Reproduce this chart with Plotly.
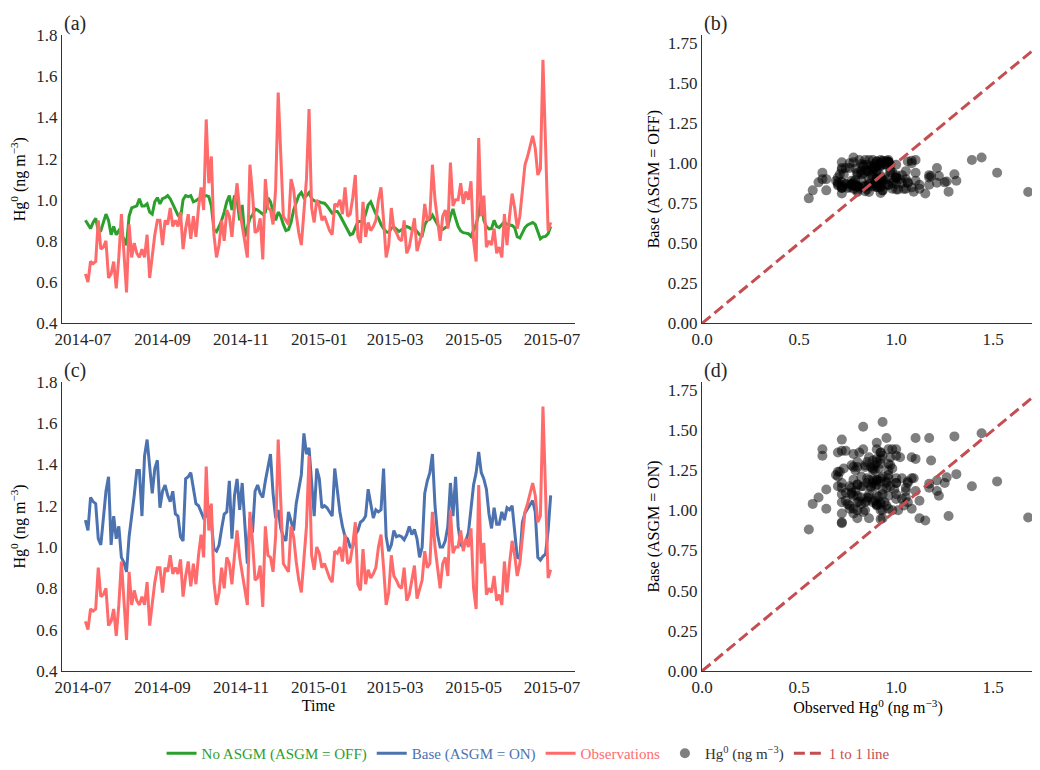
import pandas as pd
import plotly.graph_objects as go

# ---------------- data (2-day steps) ----------------
START_DATE = "2014-07-03"
STEP = "2D"

observations = [
    0.64, 0.60, 0.70, 0.69, 0.70, 0.90, 0.76, 0.77, 0.80, 0.62,
    0.64, 0.70, 0.57, 0.72, 0.93, 0.72, 0.55, 0.88, 0.72, 0.79,
    0.74, 0.72, 0.76, 0.72, 0.83, 0.62, 0.73, 0.83, 0.90, 0.90,
    0.78, 0.90, 0.88, 0.96, 0.87, 0.90, 0.87, 0.94, 0.76, 0.86,
    0.93, 0.81, 0.92, 0.82, 0.96, 1.06, 0.95, 1.39, 1.08, 1.21,
    0.83, 0.72, 0.78, 0.90, 0.80, 0.95, 0.92, 0.82, 0.96, 1.08,
    0.95, 0.88, 0.80, 0.72, 1.17, 1.03, 0.84, 0.85, 0.91, 0.71,
    1.10, 0.96, 0.95, 0.88, 1.05, 1.52, 1.22, 0.92, 0.90, 0.88,
    1.10, 1.05, 0.93, 0.84, 0.78, 0.93, 1.10, 1.44, 0.96, 0.89,
    1.00, 0.97, 0.90, 0.92, 0.88, 0.85, 0.83, 0.98, 0.97, 1.00,
    0.93, 1.06, 0.92, 0.93, 1.01, 1.12, 0.82, 0.79, 0.99, 0.82,
    0.89, 0.85, 0.87, 0.90, 1.00, 1.06, 0.90, 0.72, 0.78, 0.96,
    0.86, 0.84, 0.81, 0.80, 0.90, 0.74,
    0.77, 0.85, 0.91, 0.75, 0.80, 0.84, 0.98, 0.90, 0.92, 1.17,
    1.00, 0.89, 0.80, 0.92, 0.95, 0.86, 1.18, 0.97, 1.00, 1.00,
    1.08, 0.98, 1.04, 1.00, 1.09, 0.80, 0.70, 1.30, 0.92, 1.02,
    0.77, 0.80, 0.78, 0.86, 0.74, 0.77, 0.72, 0.93, 0.78, 0.92,
    1.03, 0.96, 0.86, 0.92, 1.05, 1.17, 1.21, 1.26, 1.31, 1.25,
    1.12, 1.15, 1.68, 1.27, 0.85, 0.89,
]

no_asgm = [
    0.90, 0.88, 0.86, 0.89, 0.91, 0.85, 0.85, 0.89, 0.93, 0.90,
    0.83, 0.87, 0.83, 0.85, 0.83, 0.81, 0.78, 0.92, 0.96, 0.965,
    0.97, 1.005, 0.97, 0.97, 0.98, 0.94, 0.93, 0.99, 1.01, 0.98,
    1.005, 1.01, 1.02, 1.005, 0.98, 0.95, 0.925, 0.91, 1.00, 1.02,
    1.015, 1.02, 0.99, 0.995, 1.005, 1.01, 1.015, 1.02, 1.015, 0.97,
    0.855, 0.845, 0.87, 0.90, 0.94, 0.99, 1.02, 0.95, 1.02, 1.00,
    0.90, 0.975, 0.82, 0.86, 0.91, 0.925, 0.955, 0.95, 0.94, 0.93,
    0.94, 1.01, 0.99, 0.95, 0.90, 0.94, 0.92, 0.88, 0.85, 0.855,
    0.89, 0.95, 0.99, 1.02, 1.035, 1.01, 1.02, 1.035, 1.005, 0.995,
    0.99, 0.99, 0.985, 0.983, 0.97, 0.95, 0.935, 0.943, 0.943, 0.925,
    0.90, 0.875, 0.85, 0.83, 0.835, 0.865, 0.894, 0.894, 0.894, 0.93,
    0.975, 0.99, 0.96, 0.93, 0.91, 0.88, 0.86, 0.845, 0.84, 0.862,
    0.868, 0.855, 0.846, 0.854, 0.86, 0.87,
    0.865, 0.855, 0.86, 0.845, 0.83, 0.825, 0.878, 0.90, 0.905, 0.925,
    0.905, 0.88, 0.855, 0.855, 0.865, 0.87, 0.92, 0.955, 0.91, 0.87,
    0.848, 0.84, 0.838, 0.835, 0.822, 0.855, 0.88, 0.93, 1.00, 0.90,
    0.87, 0.858, 0.86, 0.90, 0.87, 0.865, 0.88, 0.893, 0.88, 0.878,
    0.875, 0.865, 0.82, 0.814, 0.84, 0.865, 0.878, 0.885, 0.89, 0.88,
    0.84, 0.81, 0.82, 0.822, 0.835, 0.87,
]

base = [
    1.13, 1.08, 1.24, 1.22, 1.21, 1.04, 1.01, 1.14, 1.27, 1.34,
    1.01, 1.15, 1.04, 1.10, 0.95, 0.925, 0.88, 1.05, 1.14, 1.25,
    1.37, 1.37, 1.15, 1.44, 1.52, 1.38, 1.26, 1.38, 1.42, 1.19,
    1.27, 1.30, 1.25, 1.22, 1.27, 1.16, 1.15, 1.05, 1.03, 1.33,
    1.34, 1.36, 1.29, 1.21, 1.20, 1.17, 1.14, 1.15, 1.20, 1.12,
    0.99, 0.98, 1.01, 1.09, 1.16, 1.17, 1.32, 1.04, 1.25, 1.33,
    1.18, 1.31, 1.09, 0.92, 1.14, 1.07, 1.27, 1.30, 1.26, 1.24,
    1.32, 1.38, 1.45, 1.26, 1.14, 1.18, 1.09, 1.05, 1.03, 1.17,
    1.12, 1.08, 1.21, 1.28, 1.35, 1.55, 1.45, 1.48, 1.29, 1.15,
    1.38, 1.33, 1.19, 1.20, 1.19, 1.17, 1.15, 1.38, 1.28, 1.17,
    1.10, 1.05, 1.04, 1.00, 1.00, 1.06, 1.08, 1.12, 1.13, 1.15,
    1.28, 1.20, 1.14, 1.18, 1.17, 1.18, 1.38, 1.05, 0.98, 1.01,
    1.08, 1.05, 1.055, 1.05, 1.035, 1.06,
    1.10, 1.06, 1.085, 1.04, 0.95, 1.00, 1.26, 1.32, 1.36, 1.45,
    1.20, 1.06, 1.00, 1.00, 1.03, 1.10, 1.31, 1.15, 1.34, 1.10,
    1.01, 1.00, 1.03, 1.07, 1.20, 1.30, 1.36, 1.46, 1.36, 1.33,
    1.28, 1.16, 1.09, 1.19, 1.11, 1.11, 1.17, 1.13, 1.19, 1.18,
    1.20, 1.09, 0.95, 0.945, 1.12, 1.165, 1.185, 1.205, 1.225, 1.17,
    0.95, 0.937, 0.955, 0.965, 1.08, 1.25,
]

one_to_one = [0.0, 1.8]

time_range = ["2014-06-14 19:00", "2015-07-18 19:00"]
ts_y_range = [0.4, 1.8]
sc_x_range = [0, 1.71]
sc_y_range = [0, 1.8]

# ---------------- styles ----------------
GREEN = "#2ca02c"
BLUE = "#4c72b0"
RED = "#ff6b6b"
DASH_RED = "#c44e52"
FONT = "Liberation Serif"
TXT = "#262626"
AX = "#333333"

dates = pd.date_range(START_DATE, periods=len(observations), freq=STEP)


def lab(color, text):
    return f"<span style='color:{color}'>{text}</span>"


HG = "Hg<sup>0</sup> (ng m<sup>−3</sup>)"

fig = go.Figure()

# (a)
fig.add_trace(go.Scatter(x=dates, y=no_asgm, mode="lines", xaxis="x", yaxis="y",
                         line=dict(color=GREEN, width=3), legendrank=1,
                         name=lab(GREEN, "No ASGM (ASGM = OFF)")))
fig.add_trace(go.Scatter(x=dates, y=observations, mode="lines", xaxis="x", yaxis="y",
                         line=dict(color=RED, width=3), showlegend=False,
                         name="Observations"))
# (c)
fig.add_trace(go.Scatter(x=dates, y=base, mode="lines", xaxis="x3", yaxis="y3",
                         line=dict(color=BLUE, width=3), legendrank=2,
                         name=lab(BLUE, "Base (ASGM = ON)")))
fig.add_trace(go.Scatter(x=dates, y=observations, mode="lines", xaxis="x3", yaxis="y3",
                         line=dict(color=RED, width=3), legendrank=3,
                         name=lab(RED, "Observations")))
# (b)
fig.add_trace(go.Scatter(x=observations, y=no_asgm, mode="markers", xaxis="x2", yaxis="y2",
                         marker=dict(color="black", opacity=0.5, size=10, line=dict(width=0)),
                         legendrank=4, name=lab("#333333", HG)))
fig.add_trace(go.Scatter(x=one_to_one, y=one_to_one, mode="lines", xaxis="x2", yaxis="y2",
                         line=dict(color=DASH_RED, width=3, dash="11px,5px"),
                         legendrank=5, name=lab(DASH_RED, "1 to 1 line")))
# (d)
fig.add_trace(go.Scatter(x=observations, y=base, mode="markers", xaxis="x4", yaxis="y4",
                         marker=dict(color="black", opacity=0.5, size=10, line=dict(width=0)),
                         showlegend=False, name=HG))
fig.add_trace(go.Scatter(x=one_to_one, y=one_to_one, mode="lines", xaxis="x4", yaxis="y4",
                         line=dict(color=DASH_RED, width=3, dash="11px,5px"),
                         showlegend=False, name="1 to 1 line"))

common = dict(showline=True, linecolor=AX, linewidth=1.3, showgrid=False, zeroline=False,
              ticks="")

XL = [0.0, 0.5276]
XR = [0.6585, 1.0]
YT = [0.5467, 1.0]
YB = [0.0, 0.4548]

date_ax = dict(type="date", range=time_range, tick0="2014-07-01", dtick="M2", tickformat="%Y-%m")

# page body keeps an 8px margin, so the figure is 8px smaller on each side
fig.update_layout(
    width=1032, height=762,
    margin=dict(l=54, r=0, t=27, b=93),
    paper_bgcolor="white", plot_bgcolor="white",
    font=dict(family=FONT, color=TXT, size=16),
    xaxis=dict(domain=XL, anchor="y", **date_ax, **common),
    yaxis=dict(domain=YT, anchor="x", range=ts_y_range, dtick=0.2, tick0=0.4, tickformat=".1f",
               title=dict(text=HG, standoff=6), **common),
    xaxis2=dict(domain=XR, anchor="y2", range=sc_x_range, dtick=0.5, tick0=0, tickformat=".1f", **common),
    yaxis2=dict(domain=YT, anchor="x2", range=sc_y_range, dtick=0.25, tick0=0, tickformat=".2f",
                title=dict(text="Base (ASGM = OFF)", standoff=4), **common),
    xaxis3=dict(domain=XL, anchor="y3", **date_ax, title=dict(text="Time", standoff=4), **common),
    yaxis3=dict(domain=YB, anchor="x3", range=ts_y_range, dtick=0.2, tick0=0.4, tickformat=".1f",
                title=dict(text=HG, standoff=6), **common),
    xaxis4=dict(domain=XR, anchor="y4", range=sc_x_range, dtick=0.5, tick0=0, tickformat=".1f",
                title=dict(text="Observed " + HG, standoff=4), **common),
    yaxis4=dict(domain=YB, anchor="x4", range=sc_y_range, dtick=0.25, tick0=0, tickformat=".2f",
                title=dict(text="Base (ASGM = ON)", standoff=4), **common),
    legend=dict(orientation="h", x=0.48, xanchor="center", y=-0.13, yanchor="middle",
                font=dict(family=FONT, size=15, color=TXT), bgcolor="rgba(0,0,0,0)",
                itemwidth=30),
    showlegend=True,
)

fig.update_xaxes(tickfont=dict(family=FONT, size=17, color=TXT),
                 title_font=dict(family=FONT, size=16, color="black"))
fig.update_yaxes(tickfont=dict(family=FONT, size=17, color=TXT),
                 title_font=dict(family=FONT, size=16, color="black"))

for txt, xr, yr in [("(a)", "x domain", "y domain"), ("(b)", "x2 domain", "y2 domain"),
                    ("(c)", "x3 domain", "y3 domain"), ("(d)", "x4 domain", "y4 domain")]:
    fig.add_annotation(text=txt, xref=xr, yref=yr, x=0, y=1, xanchor="left", yanchor="bottom",
                       showarrow=False, font=dict(family=FONT, size=20, color=TXT), yshift=-2)

fig.write_html("out.html")
